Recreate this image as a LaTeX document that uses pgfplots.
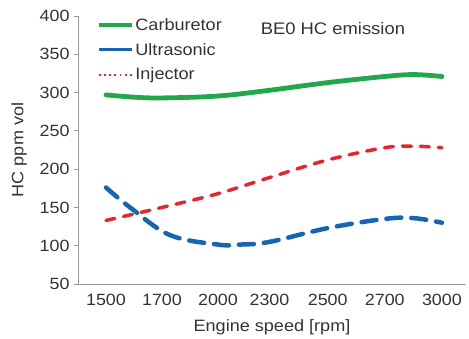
\documentclass[border=0pt]{standalone}
\usepackage{pgfplots}
\pgfplotsset{compat=1.18}
\usepackage{fontspec}
\setmainfont[FakeStretch=1.1]{Liberation Sans}
\definecolor{cgreen}{HTML}{22A84A}
\definecolor{cblue}{HTML}{1565B3}
\definecolor{cred}{HTML}{E8252B}
\definecolor{ctext}{HTML}{333333}
\definecolor{caxis}{HTML}{9A9A9A}
\begin{document}
\begin{tikzpicture}[x=1bp,y=1bp]
\path (-78bp,-55bp) rectangle (391bp,284bp);
\begin{axis}[
  at={(0,0)}, anchor=south west,
  scale only axis, width=388bp, height=268bp,
  xmin=-0.5, xmax=6.43, ymin=50, ymax=400,
  axis x line=bottom, axis y line=left,
  axis line style={-, caxis, line width=0.8bp},
  xtick={0,1,2,2.92,3.96,4.98,6},
  xticklabels={1500,1700,2000,2300,2500,2700,3000},
  ytick={50,100,...,400},
  x tick style={draw=none},
  y tick style={caxis, line width=0.8bp},
  tick align=outside, major tick length=4bp,
  tick label style={font=\fontsize{16.3}{18}\selectfont, text=ctext},
  /pgf/number format/assume math mode=true,
  yticklabel style={xshift=-1bp},
  xticklabel style={yshift=-3bp},
  xlabel={Engine speed [rpm]},
  ylabel={HC ppm vol},
  label style={font=\fontsize{16.5}{18}\selectfont, text=ctext},
  xlabel style={yshift=-7bp},
  ylabel style={yshift=6bp},
  legend image code/.code={\draw[#1] (0bp,0bp) -- (33bp,0bp);},
  legend style={draw=none, fill=none, at={(rel axis cs:0.049,1.0)}, anchor=north west,
     font=\fontsize{16.5}{18}\selectfont, text=ctext, row sep=7.5bp, inner sep=0pt,
     nodes={inner sep=2bp}},
  legend cell align=left,
  clip=false,
]
\addlegendimage{cgreen, line width=3.2bp}
\addlegendentry{Carburetor}
\addlegendimage{cblue, line width=3.2bp}
\addlegendentry{Ultrasonic}
\addlegendimage{cred, line width=2.2bp, dash pattern=on 1.8bp off 3.4bp}
\addlegendentry{Injector}
\addplot[forget plot, cgreen, line width=4.8bp, smooth, tension=0.6, line cap=round] coordinates {
(0,297) (0.5,294) (1,293) (2,295.5) (2.92,303) (3.96,313) (4.98,321) (5.5,323.5) (6,321)};
\addplot[forget plot, cblue, line width=4.5bp, smooth, tension=0.6, line cap=round, dash pattern=on 15bp off 10bp] coordinates {
(0,176) (0.43,150) (1.14,114) (2,101.5) (2.4,101.5) (2.92,105) (3.96,123) (4.98,135) (5.5,136) (6,130)};
\addplot[forget plot, cred, line width=3.5bp, smooth, tension=0.6, line cap=round, dash pattern=on 9bp off 9bp] coordinates {
(0,133) (1,150) (2,168) (2.92,189) (3.96,212) (4.98,228) (5.5,230) (6,228)};
\node[font=\fontsize{16.8}{18}\selectfont, text=ctext] at (rel axis cs:0.657,0.955) {BE0 HC emission};
\end{axis}
\end{tikzpicture}
\end{document}
